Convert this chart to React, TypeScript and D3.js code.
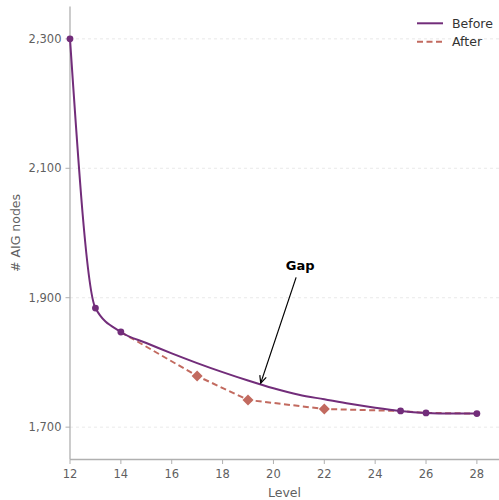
import React from "react";
import * as d3 from "d3";

// Data
const beforeLevels = [12, 13, 14, 15, 16, 17, 18, 19, 20, 21, 22, 23, 24, 25, 26, 27, 28];
const beforeNodes = [2300, 1884, 1847, 1830, 1814, 1799, 1785, 1772, 1760, 1750, 1743, 1736, 1730, 1725, 1722, 1721, 1721];
const beforeMarkerLevels = [12, 13, 14, 25, 26, 28];

const afterLevels = [14, 17, 19, 22, 25, 26, 28];
const afterNodes = [1847, 1779, 1742, 1728, 1725, 1722, 1721];
const afterMarkerLevels = [17, 19, 22];

const xTicks = [12, 14, 16, 18, 20, 22, 24, 26, 28];
const yTicks = [1700, 1900, 2100, 2300];

const seriesNames = ["Before", "After"];
const gapLabel = "Gap";
const gapTarget = [19.5, 1768];
const gapText = [21.05, 1950];

const W = 499;
const H = 500;
const PURPLE = "#722d7a";
const SALMON = "#c26a5f";
const FONT = "DejaVu Sans, sans-serif";

export default function App() {
  const x = d3.scaleLinear().domain([12, 28.87]).range([70, 499]);
  const y = d3.scaleLinear().domain([1650, 2350]).range([459.5, 6.5]);

  const beforePts: [number, number][] = beforeLevels.map((l, i) => [l, beforeNodes[i]]);
  const afterPts: [number, number][] = afterLevels.map((l, i) => [l, afterNodes[i]]);

  const beforeLine = d3
    .line<[number, number]>()
    .x((d) => x(d[0]))
    .y((d) => y(d[1]))
    .curve(d3.curveMonotoneX);
  const afterLine = d3
    .line<[number, number]>()
    .x((d) => x(d[0]))
    .y((d) => y(d[1]))
    .curve(d3.curveLinear);

  const bVal = (l: number) => beforeNodes[beforeLevels.indexOf(l)];
  const aVal = (l: number) => afterNodes[afterLevels.indexOf(l)];
  const fmt = d3.format(",");

  // annotation geometry
  const tx = x(gapText[0]);
  const ty = y(gapText[1]);
  const hx = x(gapTarget[0]);
  const hy = y(gapTarget[1]);
  const dx = hx - tx;
  const dy = hy - ty;
  const len = Math.hypot(dx, dy);
  const ux = dx / len;
  const uy = dy / len;
  const startT = 12 / uy;
  const sx = tx + ux * startT;
  const sy = ty + uy * startT;
  const ah = 8;
  const ang = (25 * Math.PI) / 180;
  const rot = (vx: number, vy: number, a: number) => [vx * Math.cos(a) - vy * Math.sin(a), vx * Math.sin(a) + vy * Math.cos(a)];
  const [l1x, l1y] = rot(-ux, -uy, ang);
  const [l2x, l2y] = rot(-ux, -uy, -ang);

  const diamond = (cx: number, cy: number, r: number) =>
    `M${cx},${cy - r}L${cx + r},${cy}L${cx},${cy + r}L${cx - r},${cy}Z`;

  return (
    <svg
      width={W}
      height={H}
      style={{ position: "absolute", left: 0, top: 0, background: "#fff" }}
      fontFamily={FONT}
    >
      <rect x={0} y={0} width={W} height={H} fill="#fff" />
      {/* grid */}
      {yTicks.map((t) => (
        <line
          key={"g" + t}
          x1={x.range()[0]}
          x2={x.range()[1]}
          y1={y(t)}
          y2={y(t)}
          stroke="#e3e3e3"
          strokeWidth={0.8}
          strokeDasharray="3,3"
        />
      ))}
      {/* spines */}
      <line x1={70} x2={70} y1={y.range()[1]} y2={y.range()[0]} stroke="#b0b0b0" strokeWidth={1.3} />
      <line x1={70} x2={499} y1={y.range()[0]} y2={y.range()[0]} stroke="#b0b0b0" strokeWidth={1.3} />
      {/* y ticks */}
      {yTicks.map((t) => (
        <g key={"y" + t}>
          <line x1={65.5} x2={70} y1={y(t)} y2={y(t)} stroke="#b0b0b0" strokeWidth={1} />
          <text x={61.5} y={y(t)} dy="0.35em" textAnchor="end" fontSize={11.5} fill="#5f5f5f">
            {fmt(t)}
          </text>
        </g>
      ))}
      {/* x ticks */}
      {xTicks.map((t) => (
        <g key={"x" + t}>
          <line x1={x(t)} x2={x(t)} y1={459.5} y2={464} stroke="#b0b0b0" strokeWidth={1} />
          <text x={x(t)} y={477.5} textAnchor="middle" fontSize={11.5} fill="#5f5f5f">
            {t}
          </text>
        </g>
      ))}
      {/* axis labels */}
      <text x={284.5} y={497} textAnchor="middle" fontSize={12.5} fill="#5f5f5f">
        Level
      </text>
      <text
        transform={`translate(19.5,233) rotate(-90)`}
        textAnchor="middle"
        fontSize={12.5}
        fill="#5f5f5f"
      >
        # AIG nodes
      </text>
      {/* after (dashed) */}
      <path d={afterLine(afterPts) || ""} fill="none" stroke={SALMON} strokeWidth={2} strokeDasharray="6,3.5" />
      {afterMarkerLevels.map((l) => (
        <path key={"a" + l} d={diamond(x(l), y(aVal(l)), 5.5)} fill={SALMON} />
      ))}
      {/* before */}
      <path d={beforeLine(beforePts) || ""} fill="none" stroke={PURPLE} strokeWidth={2} />
      {beforeMarkerLevels.map((l) => (
        <circle key={"b" + l} cx={x(l)} cy={y(bVal(l))} r={3.4} fill={PURPLE} />
      ))}
      {/* annotation */}
      <text x={tx} y={ty} dy="0.35em" textAnchor="middle" fontSize={13} fontWeight="bold" fill="#000">
        {gapLabel}
      </text>
      <line x1={sx} y1={sy} x2={hx} y2={hy} stroke="#000" strokeWidth={1.2} />
      <polyline
        points={`${hx + l1x * ah},${hy + l1y * ah} ${hx},${hy} ${hx + l2x * ah},${hy + l2y * ah}`}
        fill="none"
        stroke="#000"
        strokeWidth={1.2}
      />
      {/* legend */}
      <g>
        <line x1={417} x2={443} y1={23.3} y2={23.3} stroke={PURPLE} strokeWidth={2} />
        <text x={452} y={23.3} dy="0.35em" fontSize={12.5} fill="#333">
          {seriesNames[0]}
        </text>
        <line x1={417} x2={443} y1={41.7} y2={41.7} stroke={SALMON} strokeWidth={2} strokeDasharray="6,3.5" />
        <text x={452} y={41.7} dy="0.35em" fontSize={12.5} fill="#333">
          {seriesNames[1]}
        </text>
      </g>
    </svg>
  );
}
